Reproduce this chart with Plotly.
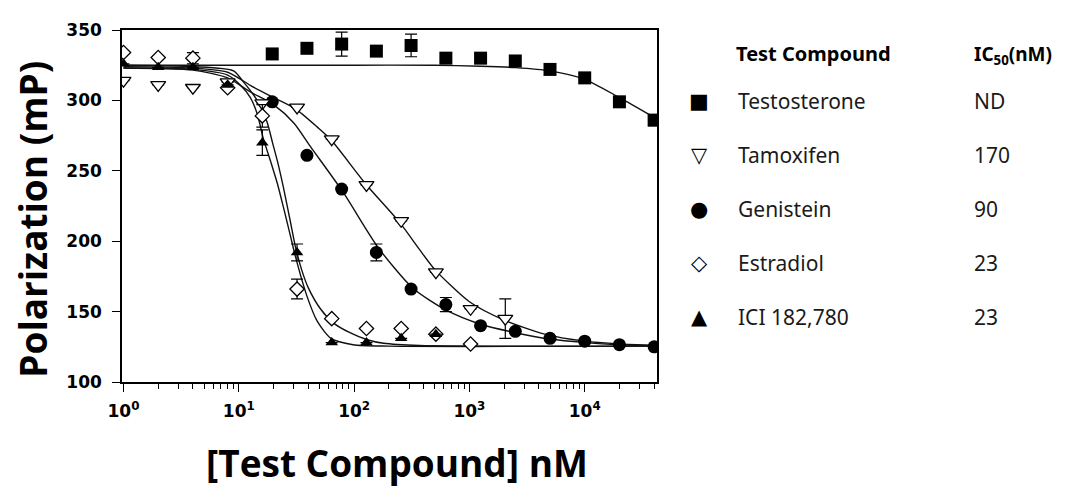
import plotly.graph_objects as go

# ---------------- data ----------------
conc_a = [1, 2, 4, 8, 16, 32, 64, 128, 256, 512, 1024, 2048]
conc_b = [19.5, 39, 78, 156, 312, 625, 1250, 2500, 5000, 10000, 20000, 40000]

testosterone_y = [333, 337, 340, 335, 339, 330, 330, 328, 322, 316, 299, 286]
testosterone_err = [None, None, 8.5, None, 8, None, None, None, None, None, None, 4]

genistein_y = [299, 261, 237, 192, 166, 155, 140, 136, 131, 129, 126.5, 125]
genistein_err = [None, None, None, 6, None, 5, None, None, None, None, None, None]

tamoxifen_y = [314, 311, 309, 313, 298, 295, 272.5, 240, 214.5, 178, 152, 145]
tamoxifen_err = [None] * 11 + [14]

estradiol_x = [1, 2, 4, 8, 16, 32, 64, 128, 256, 512, 1024]
estradiol_y = [334, 330.5, 330, 309, 289, 166, 145, 138, 138, 134, 127]
estradiol_err = [None, None, 4, None, 8, 7, None, None, None, None, None]

ici_x = [1, 2, 4, 8, 16, 32, 64, 128, 256, 512]
ici_y = [326, 323.5, 323.5, 311, 270, 192, 128, 128, 131, 134]
ici_err = [None, None, None, None, 9, 6, None, None, None, None]

# fitted curves
tes_fit_x = [1, 100, 500, 1250, 2500, 5000, 10000, 20000, 40000]
tes_fit_y = [325, 325, 325, 324.3, 323.3, 321, 315, 302, 288]

tam_fit_x = [1, 4, 8, 13, 20, 31, 48, 63, 125, 250, 370, 500, 1000, 2000, 4500, 10000, 20000, 40000]
tam_fit_y = [324, 323, 320, 310, 302, 294, 281, 272, 241, 213, 194, 180, 157, 144, 134, 129, 127, 126]

gen_fit_x = [1, 4, 8, 12.6, 20, 30, 42, 80, 160, 320, 630, 1250, 2500, 5000, 10000, 20000, 40000]
gen_fit_y = [323, 321.5, 316, 306, 297, 284, 267, 235, 196, 167, 151, 141, 135, 130.5, 128, 126.5, 126]

ici_fit_x = [1, 4, 8, 10.3, 12.6, 14.5, 16.3, 19, 21.6, 24.4, 28, 31, 39, 48, 63, 98, 200, 40000]
ici_fit_y = [323, 322, 318, 311, 302, 290, 273, 256, 241, 224, 204, 189, 161, 143, 131, 126.5, 125.5, 125.5]

est_fit_x = [1, 4, 9, 11, 13.4, 15.4, 17.7, 19.6, 21.6, 24.4, 28, 31, 35, 40, 51, 66, 92, 130, 180, 370, 40000]
est_fit_y = [325, 324, 321, 313, 304, 296, 284, 270, 257, 238, 214, 196, 180, 167, 152, 142, 135, 130, 127.5, 126, 125.5]

# axis ticks
x_tickvals = [1, 10, 100, 1000, 10000]
x_ticktext = ["10<sup>0</sup>", "10<sup>1</sup>", "10<sup>2</sup>", "10<sup>3</sup>", "10<sup>4</sup>"]
y_tickvals = [100, 150, 200, 250, 300, 350]

# legend table
compound_names = ["Testosterone", "Tamoxifen", "Genistein", "Estradiol", "ICI 182,780"]
ic50_values = ["ND", "170", "90", "23", "23"]
legend_glyphs = ["■", "▽", "●", "◇", "▲"]

# ---------------- figure ----------------
fig = go.Figure()

line_style = dict(color="#111111", width=1.4, shape="spline", smoothing=0.7)
for fx, fy in [(tes_fit_x, tes_fit_y), (tam_fit_x, tam_fit_y), (gen_fit_x, gen_fit_y),
               (ici_fit_x, ici_fit_y), (est_fit_x, est_fit_y)]:
    fig.add_trace(go.Scatter(x=fx, y=fy, mode="lines", line=line_style, hoverinfo="skip"))

def err(arr):
    return dict(type="data", array=arr, color="black", thickness=1.2, width=6, visible=True)

fig.add_trace(go.Scatter(x=conc_b, y=testosterone_y, mode="markers", error_y=err(testosterone_err),
                         marker=dict(symbol="square", size=13, color="black"), name="Testosterone"))
fig.add_trace(go.Scatter(x=conc_b, y=genistein_y, mode="markers", error_y=err(genistein_err),
                         marker=dict(symbol="circle", size=13, color="black"), name="Genistein"))
fig.add_trace(go.Scatter(x=conc_a, y=tamoxifen_y, mode="markers", error_y=err(tamoxifen_err),
                         marker=dict(symbol="triangle-down", size=13, color="white",
                                     line=dict(color="black", width=1.3)), name="Tamoxifen"))
fig.add_trace(go.Scatter(x=estradiol_x, y=estradiol_y, mode="markers", error_y=err(estradiol_err),
                         marker=dict(symbol="diamond", size=11, color="white",
                                     line=dict(color="black", width=1.3)), name="Estradiol"))
fig.add_trace(go.Scatter(x=ici_x, y=ici_y, mode="markers", error_y=err(ici_err),
                         marker=dict(symbol="triangle-up", size=11, color="black"), name="ICI 182,780"))

tick_font = dict(family="DejaVu Sans", size=17, color="black", weight="bold")

minor_vals = [m * 10 ** d for d in range(0, 5) for m in range(2, 10) if m * 10 ** d <= 40000]

fig.update_xaxes(type="log", range=[-0.013, 4.627], tickmode="array", tickvals=x_tickvals,
                 ticktext=x_ticktext, ticks="outside", ticklen=8, tickwidth=1.3, tickcolor="black",
                 showline=True, linecolor="black", linewidth=1.5, mirror=True, showgrid=False,
                 zeroline=False, tickfont=tick_font, ticklabelstandoff=5,
                 minor=dict(tickmode="array", tickvals=minor_vals, ticks="outside", ticklen=5,
                            tickwidth=1, tickcolor="black", showgrid=False))
fig.update_yaxes(range=[100, 350], tickmode="array", tickvals=y_tickvals, ticks="outside",
                 ticklen=8, tickwidth=1.3, tickcolor="black", showline=True, linecolor="black",
                 linewidth=1.5, mirror=True, showgrid=False, zeroline=False, tickfont=tick_font,
                 ticklabelstandoff=7)

# pixel helpers for annotation placement (plot area on screen: x 122..657, y 24..382)
def px(x):
    return (x - 122) / 535.0

def py(y):
    return (382 - y) / 358.0

annotations = [
    dict(text="Polarization (mP)", x=px(33), y=py(217), textangle=-90,
         font=dict(family="Open Sans", size=37, color="black", weight="bold")),
    dict(text="[Test Compound] nM", x=px(397), y=py(464),
         font=dict(family="Open Sans", size=37, color="black", weight="bold")),
    dict(text="Test Compound", x=px(734), y=py(48), xanchor="left",
         font=dict(family="Noto Sans", size=20, color="black", weight="bold")),
    dict(text="IC<sub>50</sub>(nM)", x=px(972), y=py(49), xanchor="left",
         font=dict(family="Noto Sans", size=19, color="black", weight="bold")),
]
row_y = [96, 151, 206, 261, 316]
for i, (g, n, v) in enumerate(zip(legend_glyphs, compound_names, ic50_values)):
    annotations.append(dict(text=g, x=px(699), y=py(row_y[i]), xanchor="center",
                            font=dict(family="DejaVu Sans", size=21, color="black")))
    annotations.append(dict(text=n, x=px(736), y=py(row_y[i]), xanchor="left",
                            font=dict(family="Noto Sans", size=21, color="#1a1a1a")))
    annotations.append(dict(text=v, x=px(972), y=py(row_y[i]), xanchor="left",
                            font=dict(family="Noto Sans", size=21, color="#1a1a1a")))
for a in annotations:
    a.setdefault("xanchor", "center")
    a.update(xref="paper", yref="paper", yanchor="middle", showarrow=False)

# the page body adds an 8px offset, so the figure is 8px smaller and margins shifted
fig.update_layout(width=1058, height=479, margin=dict(l=114, r=409, t=16, b=105),
                  plot_bgcolor="white", paper_bgcolor="white", showlegend=False,
                  annotations=annotations)

fig.write_html("out.html")
